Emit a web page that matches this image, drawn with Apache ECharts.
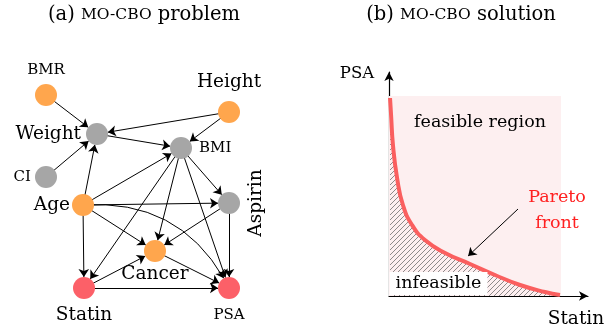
<!DOCTYPE html>
<html><head><meta charset="utf-8">
<script src="https://cdn.jsdelivr.net/npm/echarts@6/dist/echarts.min.js"></script>
<style>html,body{margin:0;padding:0;background:#fff}#c{width:615px;height:331px}</style>
</head><body><div id="c"></div>
<script>
// ---------- Panel (a): causal graph ----------
const nodeNames = ['BMR', 'Height', 'Weight', 'BMI', 'CI', 'Age', 'Aspirin', 'Cancer', 'Statin', 'PSA'];
const nodeX = [0.3, 9.45, 2.85, 7.05, 0.3, 2.15, 9.45, 5.75, 2.2, 9.45];
const nodeY = [10.25, 9.4, 8.3, 7.6, 6.15, 4.75, 4.85, 2.45, 0.6, 0.6];
const nodeKind = ['orange', 'orange', 'gray', 'gray', 'gray', 'orange', 'gray', 'orange', 'red', 'red'];
const edgeFrom = ['BMR', 'CI', 'Height', 'Height', 'Weight', 'Age', 'Age', 'Age', 'Age', 'Age', 'Age', 'BMI', 'BMI', 'BMI', 'BMI', 'Aspirin', 'Aspirin', 'Cancer', 'Statin', 'Statin'];
const edgeTo = ['Weight', 'Weight', 'Weight', 'BMI', 'BMI', 'Weight', 'BMI', 'Aspirin', 'Cancer', 'Statin', 'PSA', 'Aspirin', 'Statin', 'Cancer', 'PSA', 'Cancer', 'PSA', 'PSA', 'Cancer', 'PSA'];
const edgeCurve = [0, 0, 0, 0, 0, 0, 0, 0, 0, 0, 0.33, 0, 0, 0, 0, 0, 0, 0, 0, 0];

// ---------- Panel (b): Pareto front ----------
const paretoX = [0.006, 0.012, 0.023, 0.047, 0.081, 0.134, 0.209, 0.326, 0.471, 0.616, 0.762, 0.907, 0.994];
const paretoY = [0.99, 0.905, 0.755, 0.59, 0.455, 0.355, 0.28, 0.215, 0.16, 0.105, 0.055, 0.02, 0.005];
const feasibleX = [0, 1];
const feasibleY = [0, 1];
const arrowFrom = [0.75, 0.435];
const arrowTo = [0.46, 0.2];

const SERIF = 'DejaVu Serif';
const INK = '#000';
const BIG = 18.5, SMALL = 15;
const kindColor = { orange: '#FFA64D', gray: '#A6A6A6', red: '#FC6068' };
const labelCfg = {
  BMR: { position: 'top', distance: 6, small: true },
  Height: { position: 'top', distance: 9 },
  Weight: { position: 'left', distance: 5 },
  BMI: { position: 'right', distance: 7, small: true },
  CI: { position: 'left', distance: 4, small: true },
  Age: { position: 'left', distance: 2 },
  Aspirin: { position: 'right', distance: 7, rotate: 90, align: 'center', verticalAlign: 'top' },
  Cancer: { position: 'bottom', distance: 3 },
  Statin: { position: 'bottom', distance: 7 },
  PSA: { position: 'bottom', distance: 9, small: true }
};

// hatch pattern
const s = 5;
const pc = document.createElement('canvas');
pc.width = s; pc.height = s;
const ctx = pc.getContext('2d');
ctx.strokeStyle = '#707070';
ctx.lineWidth = 0.8;
ctx.beginPath();
ctx.moveTo(0, s); ctx.lineTo(s, 0);
ctx.moveTo(-1, 1); ctx.lineTo(1, -1);
ctx.moveTo(s - 1, s + 1); ctx.lineTo(s + 1, s - 1);
ctx.stroke();

const chart = echarts.init(document.getElementById('c'), null, { renderer: 'canvas' });

const nodes = nodeNames.map((n, i) => {
  const c = labelCfg[n];
  const lab = {
    show: true, position: c.position, distance: c.distance,
    color: INK, fontFamily: SERIF, fontSize: c.small ? SMALL : BIG
  };
  if (c.rotate) { lab.rotate = c.rotate; lab.align = c.align; lab.verticalAlign = c.verticalAlign; }
  return { name: n, value: [nodeX[i], nodeY[i]], itemStyle: { color: kindColor[nodeKind[i]], opacity: 1 }, label: lab };
});
const links = edgeFrom.map((f, i) => ({ source: f, target: edgeTo[i], lineStyle: { curveness: edgeCurve[i] } }));

const hidden = { show: false };
const titleRich = { sc: { fontFamily: SERIF, fontSize: 15.5, fill: INK } };
const option = {
  animation: false,
  graphic: [
    { type: 'text', x: 144, y: 15, style: { text: '(a) {sc|MO-CBO} problem', fontFamily: SERIF, fontSize: 19.5, fill: INK, align: 'center', verticalAlign: 'middle', rich: titleRich } },
    { type: 'text', x: 461, y: 15, style: { text: '(b) {sc|MO-CBO} solution', fontFamily: SERIF, fontSize: 19.5, fill: INK, align: 'center', verticalAlign: 'middle', rich: titleRich } }
  ],
  grid: [
    { left: 40, top: 60, width: 200, height: 240 },
    { left: 389, top: 72, width: 199, height: 224 }
  ],
  xAxis: [
    { gridIndex: 0, type: 'value', min: 0, max: 10, show: false },
    { gridIndex: 1, type: 'value', min: 0, max: 199 / 172, axisLine: { show: true, onZero: false, symbol: ['none', 'arrow'], symbolSize: [7, 9], lineStyle: { color: '#000', width: 1.2 } },
      axisTick: hidden, axisLabel: hidden, splitLine: hidden }
  ],
  yAxis: [
    { gridIndex: 0, type: 'value', min: 0, max: 12, show: false },
    { gridIndex: 1, type: 'value', min: 0, max: 224 / 200, axisLine: { show: true, onZero: false, symbol: ['none', 'arrow'], symbolSize: [7, 9], lineStyle: { color: '#000', width: 1.2 } },
      axisTick: hidden, axisLabel: hidden, splitLine: hidden }
  ],
  series: [
    {
      type: 'graph', coordinateSystem: 'cartesian2d', xAxisIndex: 0, yAxisIndex: 0,
      symbolSize: 22, edgeSymbol: ['none', 'arrow'], edgeSymbolSize: [0, 8],
      lineStyle: { color: '#000', width: 1, opacity: 1 },
      emphasis: { disabled: true },
      data: nodes, links: links, z: 3
    },
    {
      type: 'line', xAxisIndex: 1, yAxisIndex: 1, data: [], z: 1, silent: true,
      markArea: { silent: true, itemStyle: { color: '#FDEFF0', opacity: 1 },
        data: [[{ coord: [feasibleX[0], feasibleY[0]] }, { coord: [feasibleX[1], feasibleY[1]] }]] }
    },
    {
      type: 'line', xAxisIndex: 1, yAxisIndex: 1, z: 3, silent: true,
      data: paretoX.map((x, i) => [x, paretoY[i]]),
      smooth: 0.5, symbol: 'none',
      lineStyle: { color: '#FA5F5F', width: 4 },
      areaStyle: { color: { image: pc, repeat: 'repeat' }, opacity: 1 }
    },
    {
      type: 'lines', coordinateSystem: 'cartesian2d', xAxisIndex: 1, yAxisIndex: 1, z: 4, silent: true,
      symbol: ['none', 'arrow'], symbolSize: 8,
      lineStyle: { color: '#000', width: 1, opacity: 1 },
      data: [{ coords: [arrowFrom, arrowTo] }]
    },
    {
      type: 'scatter', xAxisIndex: 1, yAxisIndex: 1, z: 5, silent: true, clip: false, symbolSize: 0,
      itemStyle: { opacity: 1 },
      label: { show: true, position: 'inside', fontFamily: SERIF, color: INK, fontSize: 17.5, formatter: p => p.data.t },
      data: [
        { value: [0.529, 0.87], t: 'feasible region' },
        { value: [0.977, 0.43], t: 'Pareto\nfront', label: { color: '#FF2020', fontSize: 17.5, lineHeight: 26 } },
        { value: [0.288, 0.0625], t: 'infeasible', label: { backgroundColor: '#fff', padding: [2, 6], lineHeight: 19 } },
        { value: [-0.186, 1.11], t: 'PSA', label: { fontSize: 16.5 } },
        { value: [1.087, -0.115], t: 'Statin', label: { fontSize: BIG } }
      ]
    }
  ]
};
chart.setOption(option);
</script>
</body></html>
